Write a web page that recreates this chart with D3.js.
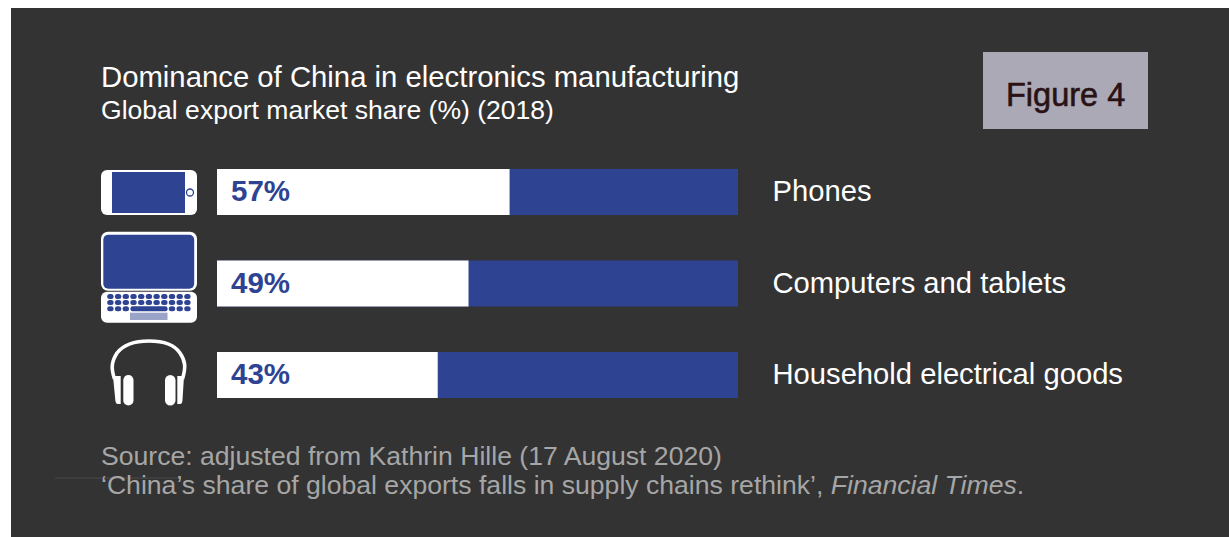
<!DOCTYPE html>
<html>
<head>
<meta charset="utf-8">
<script src="https://cdn.jsdelivr.net/npm/d3@7"></script>
<style>
  html, body { margin: 0; padding: 0; background: #fff; }
  svg { display: block; }
  text { font-family: "Liberation Sans", Arial, sans-serif; }
</style>
</head>
<body>
<svg></svg>
<script>
// data
var categories = ["Phones", "Computers and tablets", "Household electrical goods"];
var shares = [57, 49, 43];
var iconNames = ["phone", "laptop", "headphones"];
var titleLines = ["Dominance of China in electronics manufacturing", "Global export market share (%) (2018)"];
var figureLabel = "Figure 4";
var sourceLine = "Source: adjusted from Kathrin Hille (17 August 2020)";
var citeParts = ["\u2018China\u2019s share of global exports falls in supply chains rethink\u2019, ", "Financial Times", "."];

// dimensions
var svgWidth = 1229;
var svgHeight = 537;

var white = "#ffffff";
var blue = "#2e4391";
var panel = "#333333";

var svg = d3.select("svg")
  .attr("width", svgWidth)
  .attr("height", svgHeight);

// dark panel
svg.append("rect")
  .attr("x", 11).attr("y", 8)
  .attr("width", svgWidth - 11).attr("height", svgHeight - 8)
  .attr("fill", panel);

// titles
svg.append("text").attr("x", 101).attr("y", 87)
  .attr("font-size", 29.3).attr("fill", white).text(titleLines[0]);
svg.append("text").attr("x", 101).attr("y", 119)
  .attr("font-size", 26.55).attr("fill", white).text(titleLines[1]);

// figure badge
svg.append("rect")
  .attr("x", 983).attr("y", 52).attr("width", 165).attr("height", 77)
  .attr("fill", "#aaa9b5");
svg.append("text").attr("x", 1006).attr("y", 106)
  .attr("font-size", 32.5).attr("fill", "#2a1214")
  .attr("stroke", "#2a1214").attr("stroke-width", 0.6)
  .text(figureLabel);

// scales
var xScale = d3.scaleLinear().domain([0, 101.5]).range([217, 738]);
var yScale = d3.scalePoint().domain(categories).range([169, 352]);
var barHeight = 46;

var rows = svg.selectAll(".row")
  .data(categories)
  .enter()
  .append("g")
  .attr("class", "row")
  .attr("transform", d => `translate(0, ${yScale(d)})`);

// blue track, then the white share on top
rows.append("rect")
  .attr("x", xScale(0))
  .attr("width", xScale.range()[1] - xScale(0))
  .attr("height", barHeight)
  .attr("fill", blue);

rows.append("rect")
  .attr("x", xScale(0))
  .attr("width", (d, i) => xScale(shares[i]) - xScale(0))
  .attr("height", barHeight)
  .attr("fill", white);

rows.append("text")
  .attr("x", 231)
  .attr("y", 32)
  .attr("font-size", 29.5)
  .attr("font-weight", "bold")
  .attr("fill", blue)
  .text((d, i) => shares[i] + "%");

rows.append("text")
  .attr("x", 772.5)
  .attr("y", 32)
  .attr("font-size", 29.2)
  .attr("fill", white)
  .text(d => d);

// icons are drawn relative to their row
var icons = {
  phone: function(g) {
    g.append("rect").attr("x", 101).attr("y", 1).attr("width", 96).attr("height", 45).attr("rx", 6).attr("fill", white);
    g.append("rect").attr("x", 112).attr("y", 3).attr("width", 73).attr("height", 41).attr("fill", blue);
    g.append("circle").attr("cx", 190).attr("cy", 23.5).attr("r", 3.5)
      .attr("fill", white).attr("stroke", blue).attr("stroke-width", 1.3);
  },
  laptop: function(g) {
    g.append("rect").attr("x", 101).attr("y", -28.8).attr("width", 96).attr("height", 59).attr("rx", 7).attr("fill", white);
    g.append("rect").attr("x", 103.3).attr("y", -25.8).attr("width", 90.9).attr("height", 54).attr("rx", 5).attr("fill", blue);
    g.append("rect").attr("x", 101).attr("y", 31.2).attr("width", 96).attr("height", 31).attr("rx", 6).attr("fill", white);
    // keys
    d3.range(3).forEach(function(r) {
      d3.range(11).forEach(function(k) {
        if (r == 2 && k > 2 && k < 8) return;
        g.append("rect")
          .attr("x", 107.2 + k * 7.7).attr("y", 33.5 + r * 6.1)
          .attr("width", 6.4).attr("height", 5).attr("rx", 2.5)
          .attr("fill", blue);
      });
    });
    g.append("rect").attr("x", 130.5).attr("y", 45.7).attr("width", 37).attr("height", 5).attr("rx", 2).attr("fill", blue);
    g.append("rect").attr("x", 130).attr("y", 52.2).attr("width", 37.5).attr("height", 7.3).attr("fill", "#9aa3c8");
  },
  headphones: function(g) {
    g.append("path")
      .attr("d", "M114.5,27 C110.5,15 112,9 117,1 C124,-8 136,-11 149,-11 C162,-11 174,-8 180,1 C185.5,9 186,15 182.5,27")
      .attr("fill", "none").attr("stroke", white).attr("stroke-width", 3.6);
    // outer cups
    g.append("path").attr("d", "M113,24 L120.7,24 L120.7,52 L118,52 C116,52 115.5,50 115.3,48 Z").attr("fill", white);
    g.append("path").attr("d", "M177.3,24 L184,24 L182.5,48 C182.3,50 182,52 180,52 L177.3,52 Z").attr("fill", white);
    // inner cups
    g.append("rect").attr("x", 123.3).attr("y", 23).attr("width", 10.2).attr("height", 30.5).attr("rx", 5.1).attr("fill", white);
    g.append("rect").attr("x", 165).attr("y", 23).attr("width", 10.5).attr("height", 30.5).attr("rx", 5.2).attr("fill", white);
  }
};

rows.each(function(d, i) {
  icons[iconNames[i]](d3.select(this).append("g"));
});

// faint stray line behind the source
svg.append("line")
  .attr("x1", 55).attr("x2", 180).attr("y1", 478).attr("y2", 478)
  .attr("stroke", "#4a4a4a").attr("stroke-width", 1);

// source
svg.append("text").attr("x", 101).attr("y", 465)
  .attr("font-size", 26.6).attr("fill", "#a6a6a6").text(sourceLine);

var cite = svg.append("text").attr("x", 101).attr("y", 494)
  .attr("font-size", 26.6).attr("fill", "#a6a6a6");
cite.append("tspan").text(citeParts[0]);
cite.append("tspan").attr("font-style", "italic").text(citeParts[1]);
cite.append("tspan").text(citeParts[2]);
</script>
</body>
</html>
